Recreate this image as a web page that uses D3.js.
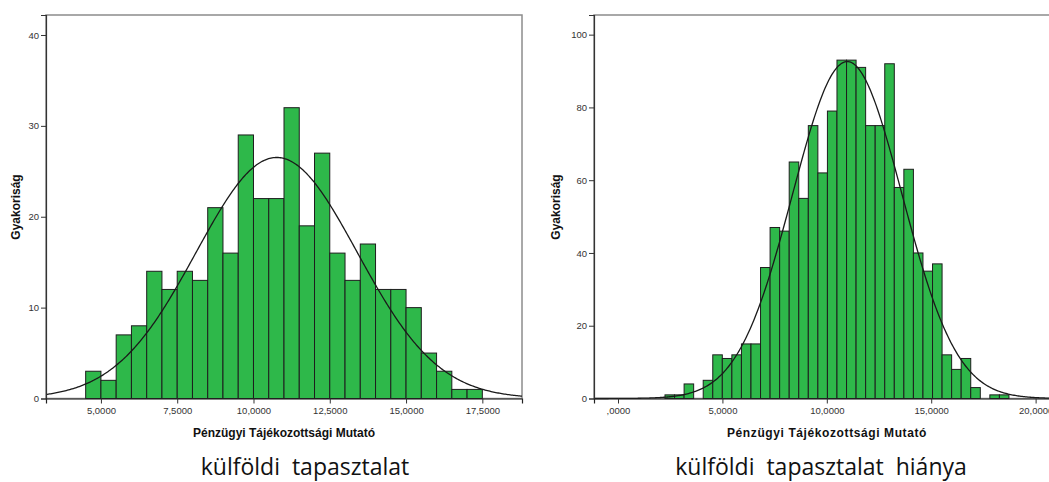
<!DOCTYPE html>
<html>
<head>
<meta charset="utf-8">
<script src="https://cdn.jsdelivr.net/npm/d3@7"></script>
<style>
  body { margin: 0; background: white; }
  svg { display: block; }
</style>
</head>
<body>
<div id="chart"></div>
<script>
// bin counts
const countsAbroad = [3, 2, 7, 8, 14, 12, 14, 13, 21, 16, 29, 22, 22, 32, 19, 27, 16, 13, 17, 12, 12, 10, 5, 3, 1, 1];
const binStartAbroad = 4.5;
const binWidthAbroad = 0.5;

const countsNoAbroad = [1, 1, 4, 0, 5, 12, 11, 12, 15, 15, 36, 47, 46, 65, 55, 75, 62, 79, 93, 93, 91, 75, 75, 92, 58, 63, 40, 35, 37, 12, 8, 11, 3, 0, 1, 1];
const binStartNoAbroad = 2.25;
const binWidthNoAbroad = 0.4576;

// fitted normal curve parameters (mean, std dev, n)
const normalAbroad = { mean: 10.76, sd: 2.64, n: 351 };
const normalNoAbroad = { mean: 10.98, sd: 2.62, n: 1329 };

const xTicksAbroad = [5, 7.5, 10, 12.5, 15, 17.5];
const yTicksAbroad = [0, 10, 20, 30, 40];
const xTicksNoAbroad = [0, 5, 10, 15, 20];
const yTicksNoAbroad = [0, 20, 40, 60, 80, 100];

const xTitle = "Pénzügyi Tájékozottsági Mutató";
const yTitle = "Gyakoriság";
const subtitles = ["külföldi  tapasztalat", "külföldi  tapasztalat  hiánya"];

const width = 1049, height = 482;

const svg = d3
  .select("#chart")
  .append("svg")
  .attr("width", width)
  .attr("height", height);

const fmt = (d) => d3.format(".4f")(d).replace(".", ",").replace(/^0,/, ",");

function drawHistogram(cfg) {
  const { counts, binStart, binWidth, normal, xDomain, xRange, yDomain, yRange, xTicks, yTicks } = cfg;

  const x = d3.scaleLinear().domain(xDomain).range(xRange);
  const y = d3.scaleLinear().domain(yDomain).range(yRange);

  const g = svg.append("g");

  // plot frame
  g.append("rect")
    .attr("x", xRange[0])
    .attr("y", yRange[1])
    .attr("width", xRange[1] - xRange[0])
    .attr("height", yRange[0] - yRange[1])
    .attr("fill", "white")
    .attr("stroke", "#8c8c8c")
    .attr("stroke-width", 1.5);

  const bins = counts.map((c, i) => ({ x0: binStart + i * binWidth, x1: binStart + (i + 1) * binWidth, count: c }));

  g.selectAll(".bar")
    .data(bins.filter((d) => d.count > 0))
    .enter()
    .append("rect")
    .attr("class", "bar")
    .attr("x", (d) => x(d.x0))
    .attr("y", (d) => y(d.count))
    .attr("width", (d) => x(d.x1) - x(d.x0))
    .attr("height", (d) => y(0) - y(d.count))
    .attr("fill", "#2eb84a")
    .attr("stroke", "#1e1e1e")
    .attr("stroke-width", 1);

  // normal curve scaled to counts
  const density = (v) =>
    (normal.n * binWidth) / (normal.sd * Math.sqrt(2 * Math.PI)) *
    Math.exp(-0.5 * Math.pow((v - normal.mean) / normal.sd, 2));
  const xs = d3.range(xDomain[0], xDomain[1], (xDomain[1] - xDomain[0]) / 400).concat([xDomain[1]]);

  g.append("path")
    .datum(xs)
    .attr("fill", "none")
    .attr("stroke", "#1a1a1a")
    .attr("stroke-width", 1.3)
    .attr("d", d3.line().x((d) => x(d)).y((d) => y(density(d))));

  // axes
  const yAxis = g.append("g")
    .attr("transform", `translate(${xRange[0]},0)`)
    .call(d3.axisLeft(y).tickValues(yTicks).tickSize(5).tickPadding(2));
  const xAxis = g.append("g")
    .attr("transform", `translate(0,${yRange[0]})`)
    .call(d3.axisBottom(x).tickValues(xTicks).tickFormat(fmt).tickSize(5).tickPadding(4));

  [xAxis, yAxis].forEach((a) => {
    a.select(".domain").attr("stroke", "#333").attr("stroke-width", 1.2);
    a.selectAll(".tick line").attr("stroke", "#333");
    a.selectAll(".tick text")
      .attr("fill", "#333")
      .style("font-family", "Liberation Sans, Arial, sans-serif")
      .style("font-size", "9.5px");
  });
  xAxis.select(".domain").attr("stroke", "#222");

  return { x, y, g };
}

const left = drawHistogram({
  counts: countsAbroad,
  binStart: binStartAbroad,
  binWidth: binWidthAbroad,
  normal: normalAbroad,
  xDomain: [3.2, 18.8],
  xRange: [46, 522],
  yDomain: [0, 42.2],
  yRange: [398.5, 15],
  xTicks: xTicksAbroad,
  yTicks: yTicksAbroad,
});

const right = drawHistogram({
  counts: countsNoAbroad,
  binStart: binStartNoAbroad,
  binWidth: binWidthNoAbroad,
  normal: normalNoAbroad,
  xDomain: [-1.15, 21.2],
  xRange: [594, 594 + 22.35 * 20.88],
  yDomain: [0, 105.4],
  yRange: [398.5, 15],
  xTicks: xTicksNoAbroad,
  yTicks: yTicksNoAbroad,
});

// axis titles and captions
const titles = [
  { xt: 284, yt: 16, sub: 305 },
  { xt: 827, yt: 556, sub: 821 },
];

titles.forEach((t, i) => {
  svg.append("text")
    .attr("x", t.xt)
    .attr("y", 437)
    .attr("text-anchor", "middle")
    .style("font-family", "Liberation Sans, Arial, sans-serif")
    .style("font-weight", "bold")
    .style("font-size", "12px")
    .style("letter-spacing", i === 1 ? "0.6px" : "0px")
    .attr("fill", "#111")
    .text(xTitle);

  svg.append("text")
    .attr("transform", `translate(${t.yt + 4},207) rotate(-90)`)
    .attr("text-anchor", "middle")
    .style("font-family", "Liberation Sans, Arial, sans-serif")
    .style("font-weight", "bold")
    .style("font-size", "12px")
    .attr("fill", "#111")
    .text(yTitle);

  svg.append("text")
    .attr("x", t.sub)
    .attr("y", 475)
    .attr("text-anchor", "middle")
    .style("font-family", "Open Sans, sans-serif")
    .style("font-size", "23px")
    .style("white-space", "pre")
    .attr("fill", "#111")
    .text(subtitles[i]);
});
</script>
</body>
</html>
